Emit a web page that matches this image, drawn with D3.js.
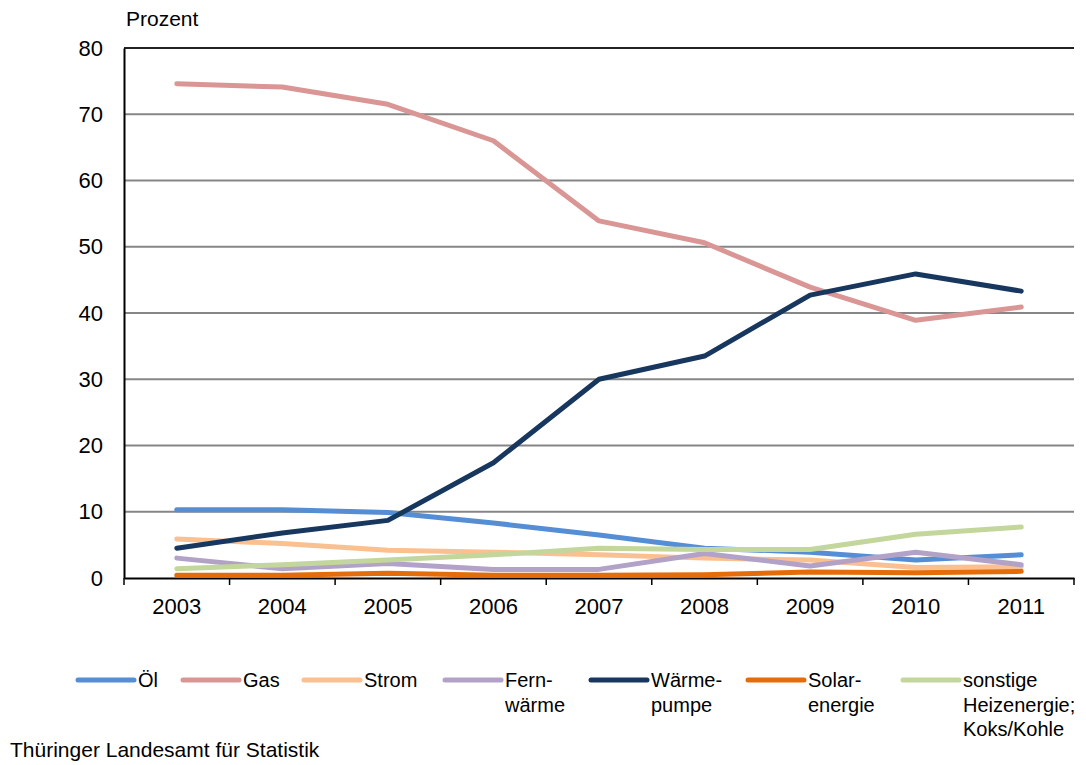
<!DOCTYPE html>
<html>
<head>
<meta charset="utf-8">
<script src="https://cdn.jsdelivr.net/npm/d3@7"></script>
<style>
  body { margin: 0; background: #fff; }
  svg { font-family: "Liberation Sans", Arial, sans-serif; }
</style>
</head>
<body>
<svg></svg>
<script>
const width = 1086,
  height = 765

// data
const years = ["2003", "2004", "2005", "2006", "2007", "2008", "2009", "2010", "2011"]
const oel = [10.3, 10.3, 9.9, 8.3, 6.5, 4.5, 3.9, 2.7, 3.5]
const gas = [74.6, 74.1, 71.5, 66.0, 53.9, 50.6, 43.9, 38.9, 40.9]
const strom = [5.9, 5.2, 4.2, 3.9, 3.5, 3.0, 2.7, 1.6, 1.7]
const fernwaerme = [3.0, 1.4, 2.2, 1.3, 1.3, 3.7, 1.8, 3.9, 2.0]
const waermepumpe = [4.5, 6.8, 8.7, 17.4, 30.0, 33.5, 42.7, 45.9, 43.3]
const solar = [0.4, 0.4, 0.7, 0.4, 0.4, 0.5, 0.9, 0.8, 1.0]
const sonstige = [1.4, 2.0, 2.7, 3.5, 4.5, 4.3, 4.3, 6.6, 7.7]
const yTicks = [0, 10, 20, 30, 40, 50, 60, 70, 80]

const series = [
  { name: ["Öl"], values: oel, color: "#558ed5" },
  { name: ["Gas"], values: gas, color: "#d99694" },
  { name: ["Strom"], values: strom, color: "#fac090" },
  { name: ["Fern-", "wärme"], values: fernwaerme, color: "#b3a2c7" },
  { name: ["Wärme-", "pumpe"], values: waermepumpe, color: "#17375e" },
  { name: ["Solar-", "energie"], values: solar, color: "#e46c0a" },
  { name: ["sonstige", "Heizenergie;", "Koks/Kohle"], values: sonstige, color: "#c3d69b" },
]

// legend sample start positions
const legendX = [78, 183, 304, 445, 591, 748, 903]

const svg = d3.select("svg").attr("width", width).attr("height", height)

const x = d3.scaleBand().domain(years).range([124, 1074])
const y = d3.scaleLinear().domain([0, 80]).range([578, 48])
const cx = d => x(d) + x.bandwidth() / 2

// gridlines
svg.append("g")
  .selectAll("line")
  .data(yTicks.filter(d => d > 0))
  .join("line")
  .attr("x1", 124)
  .attr("x2", 1074)
  .attr("y1", d => y(d))
  .attr("y2", d => y(d))
  .attr("stroke", d => (d === 80 ? "#222" : "#868686"))
  .attr("stroke-width", 2)

// y axis
const yAxis = svg.append("g").attr("transform", "translate(124,0)")
  .call(d3.axisLeft(y).tickValues(yTicks).tickSize(0).tickPadding(21))
yAxis.select(".domain").attr("stroke", "#000").attr("stroke-width", 2)
yAxis.selectAll("text").attr("font-size", 22).attr("fill", "#000")
  .attr("font-family", "Liberation Sans, Arial, sans-serif")

// x axis
const xAxis = svg.append("g").attr("transform", "translate(0,578)")
  .call(d3.axisBottom(x).tickSize(0).tickPadding(20))
xAxis.select(".domain").attr("stroke", "#000").attr("stroke-width", 2)
xAxis.selectAll("text").attr("font-size", 22).attr("fill", "#000")
  .attr("font-family", "Liberation Sans, Arial, sans-serif")
xAxis.selectAll(".bound")
  .data(d3.range(years.length + 1))
  .join("line")
  .attr("class", "bound")
  .attr("x1", i => 124 + i * x.step())
  .attr("x2", i => 124 + i * x.step())
  .attr("y1", 0)
  .attr("y2", 7)
  .attr("stroke", "#000")
  .attr("stroke-width", 1.5)

svg.append("text")
  .attr("x", 126)
  .attr("y", 26)
  .attr("font-size", 21)
  .text("Prozent")

// lines
const line = d3.line()
  .x((d, i) => cx(years[i]))
  .y(d => y(d))

svg.append("g")
  .selectAll("path")
  .data(series)
  .join("path")
  .attr("d", d => line(d.values))
  .attr("fill", "none")
  .attr("stroke", d => d.color)
  .attr("stroke-width", 5)
  .attr("stroke-linecap", "round")
  .attr("stroke-linejoin", "round")

// legend
const leg = svg.append("g")
  .selectAll("g")
  .data(series)
  .join("g")
  .attr("transform", (d, i) => `translate(${legendX[i]},680)`)

leg.append("line")
  .attr("x1", 0)
  .attr("x2", 56)
  .attr("stroke", d => d.color)
  .attr("stroke-width", 5)
  .attr("stroke-linecap", "round")

leg.append("text")
  .attr("x", 60)
  .attr("y", 7)
  .attr("font-size", 20)
  .selectAll("tspan")
  .data(d => d.name)
  .join("tspan")
  .attr("x", 60)
  .attr("dy", (d, i) => (i === 0 ? 0 : 24.5))
  .text(d => d)

svg.append("text")
  .attr("x", 10)
  .attr("y", 757)
  .attr("font-size", 21)
  .text("Thüringer Landesamt für Statistik")
</script>
</body>
</html>
